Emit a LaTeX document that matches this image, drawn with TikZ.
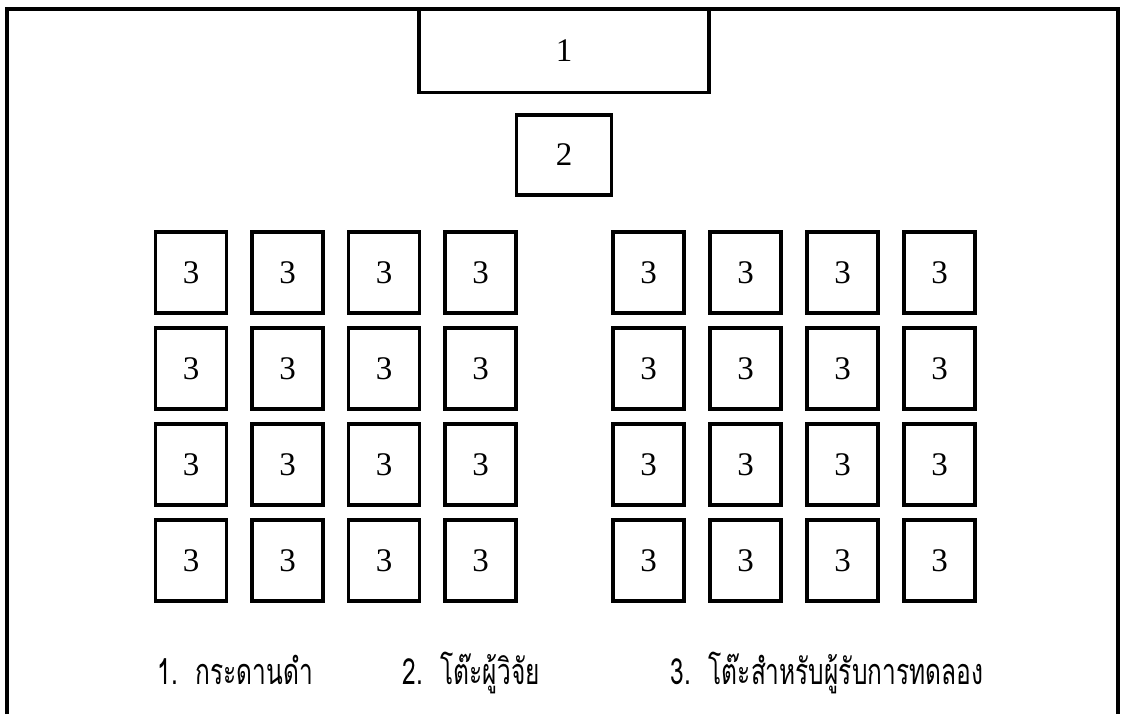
\documentclass[tikz,border=0pt]{standalone}
\usepackage{fontspec}
\setmainfont{Liberation Serif}
\newfontfamily\thaifont[Script=Thai,FakeStretch=0.68]{Loma}
\usetikzlibrary{positioning}

\begin{document}
\begin{tikzpicture}[
  x=0.5pt, y=-0.5pt,
  box/.style={
    draw=black,
    line width=1.7pt,
    minimum width=35.5pt,
    minimum height=40.5pt,
    inner sep=0pt,
    font=\fontsize{16.5}{18}\selectfont
  },
  wall/.style={line width=1.6pt},
  legend/.style={anchor=base west, inner sep=0pt,
    font=\thaifont\fontsize{18}{20}\selectfont}
]
  \useasboundingbox (0,0) rectangle (1122,714);
  \draw[wall] (7,714) -- (7,9) -- (1118,9) -- (1118,714);

  \node[box, minimum width=145pt, minimum height=41.5pt] (board) at (564,51) {1};
  \node[box, minimum width=47.5pt, minimum height=40pt, below=9.5pt of board]
    (researcher) {2};

  % student desks, two blocks of 4x4
  \foreach \r in {1,...,4}{
    \foreach \c in {1,...,4}{
      \node[box] (left-\r-\c) at ({191+96.5*(\c-1)}, {272.5+96*(\r-1)}) {3};
      \node[box] (right-\r-\c) at ({648.5+97*(\c-1)}, {272.5+96*(\r-1)}) {3};
    }
  }

  \node[legend] (key1) at (157,684) {1.\enspace กระดานดำ};
  \node[legend] (key2) at (402,684) {2.\enspace โต๊ะผู้วิจัย};
  \node[legend] (key3) at (670,684) {3.\enspace โต๊ะสำหรับผู้รับการทดลอง};
\end{tikzpicture}
\end{document}
